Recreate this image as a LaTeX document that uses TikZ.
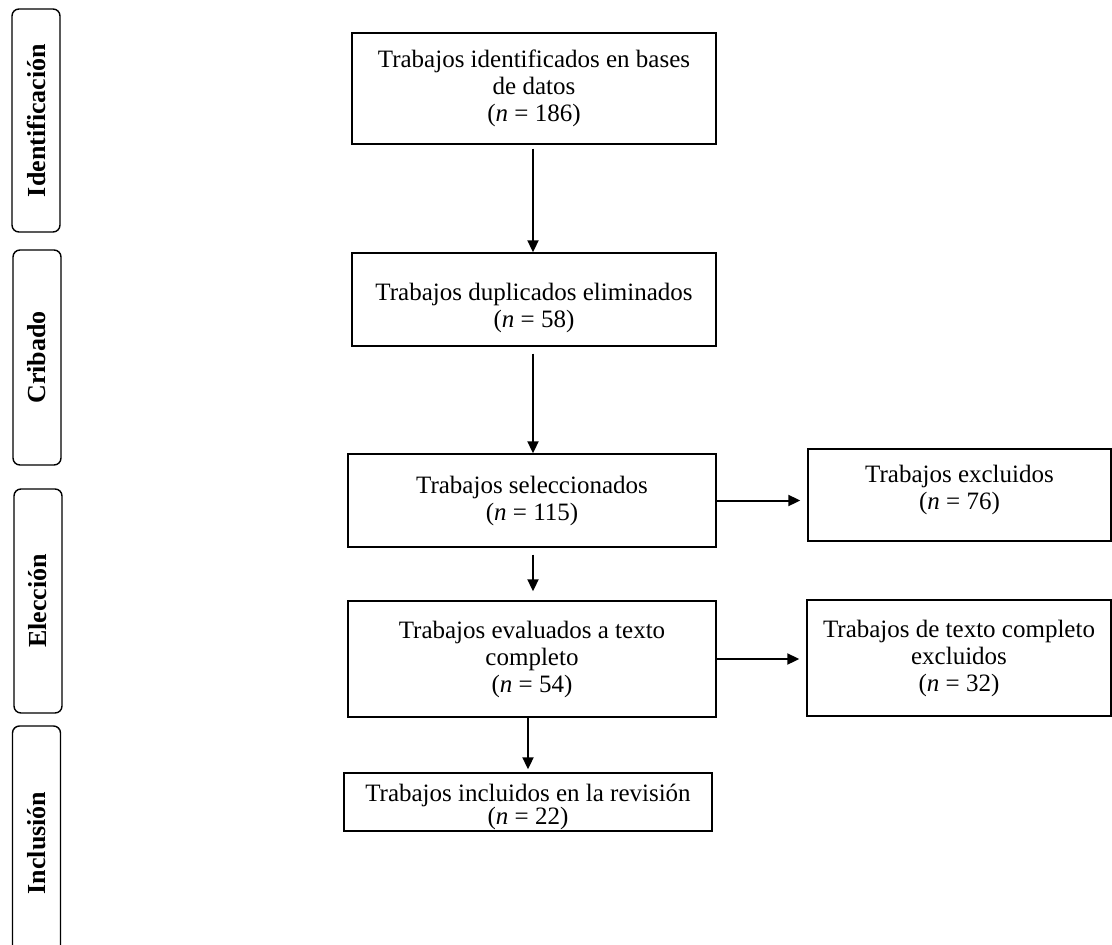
\documentclass[tikz,border=0pt]{standalone}
\usepackage{fontspec}
\setmainfont{Liberation Serif}
\usepackage{tikz}
\usetikzlibrary{positioning, calc, arrows.meta}

\begin{document}
\begin{tikzpicture}[x=1pt,y=-1pt,
  texto/.style={align=center,inner sep=0pt,font=\fontsize{25}{27}\selectfont},
  caja/.style={draw,line width=1.4pt,texto},
  fase/.style={draw,line width=1.4pt,rounded corners=7pt,rotate=90,
    minimum height=48pt,font=\fontsize{26}{28}\selectfont\bfseries},
  flecha/.style={-{Triangle[length=12pt,width=11pt]},line width=2pt}]
  \useasboundingbox (0,0) rectangle (1112,945);

  % fases
  \node[fase,minimum width=223pt] (identificacion) at (36,120.5) {Identificación};
  \node[fase,minimum width=215pt] (cribado) at (37,357.5) {Cribado};
  \node[fase,minimum width=224pt] (eleccion) at (38,601) {Elección};
  \node[fase,minimum width=234pt] (inclusion) at (36.5,843) {Inclusión};

  % cajas
  \node[caja,minimum width=364pt,minimum height=111pt] (identificados) at (534,88.5)
    {Trabajos identificados en bases\\de datos\\(\textit{n} = 186)};
  \node[caja,minimum width=364pt,minimum height=93pt,
    label={[texto,yshift=-8pt]center:{Trabajos duplicados eliminados\\(\textit{n} = 58)}}]
    (duplicados) at (534,299.5) {};
  \node[caja,minimum width=368pt,minimum height=93pt] (seleccionados) at (532,500.5)
    {Trabajos seleccionados\\(\textit{n} = 115)};
  \node[caja,minimum width=368pt,minimum height=116pt] (evaluados) at (532,659)
    {Trabajos evaluados a texto\\completo\\(\textit{n} = 54)};
  \node[caja,minimum width=368pt,minimum height=58pt,
    label={[texto,font=\fontsize{25}{23}\selectfont,yshift=-5pt]center:{Trabajos incluidos en la revisión\\(\textit{n} = 22)}}]
    (incluidos) at (528,802) {};
  \node[caja,minimum width=303pt,minimum height=92pt,
    label={[texto,yshift=5pt]center:{Trabajos excluidos\\(\textit{n} = 76)}}]
    (excluidos) at (959.5,495) {};
  \node[caja,minimum width=304pt,minimum height=116pt] (textoexcl) at (959,658)
    {Trabajos de texto completo\\excluidos\\(\textit{n} = 32)};

  \path[flecha]
    (identificados.south -| 533,0) edge [shorten <=4pt] (duplicados.north -| 533,0)
    (duplicados.south -| 533,0) edge [shorten <=7pt] (seleccionados.north -| 533,0)
    (seleccionados.south -| 533,0) edge [shorten <=7pt, shorten >=9pt] (evaluados.north -| 533,0)
    (seleccionados.east) edge [shorten >=7pt] (seleccionados.east -| excluidos.west)
    (evaluados.east) edge [shorten >=7pt] (evaluados.east -| textoexcl.west)
    (evaluados.south -| incluidos.north) edge [shorten >=3pt] (incluidos.north);
\end{tikzpicture}
\end{document}
